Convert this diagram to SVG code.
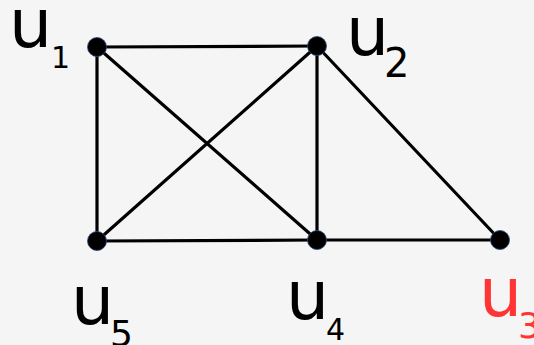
<svg xmlns="http://www.w3.org/2000/svg" width="534" height="345" viewBox="0 0 534 345">
<style>
.e{stroke:#000;stroke-width:3.2;stroke-linecap:round}
.n{fill:#000;stroke:#2a4a7a;stroke-width:0.8}
.t{font-family:"DejaVu Sans",sans-serif}
.u{font-size:68px}
.r{fill:#ff3535}
</style>
<rect width="534" height="345" fill="#f5f5f5"/>
<g id="connectors">
<line class="e" x1="97" y1="47" x2="317" y2="46"/>
<line class="e" x1="97" y1="47" x2="97" y2="241"/>
<line class="e" x1="97" y1="47" x2="317" y2="240"/>
<line class="e" x1="317" y1="46" x2="97" y2="241"/>
<line class="e" x1="317" y1="46" x2="317" y2="240"/>
<line class="e" x1="317" y1="46" x2="500" y2="240"/>
<line class="e" x1="97" y1="241" x2="317" y2="240"/>
<line class="e" x1="317" y1="240" x2="500" y2="240"/>
</g>
<g id="u1"><circle class="n" cx="97" cy="47" r="9.5"/><text class="t u" x="9" y="47">u</text><text class="t" font-size="30" x="51" y="68">1</text></g>
<g id="u2"><circle class="n" cx="317" cy="46" r="9.5"/><text class="t u" x="346" y="55">u</text><text class="t" font-size="40" x="384" y="77">2</text></g>
<g id="u3"><circle class="n" cx="500" cy="240" r="9.5"/><text class="t u r" x="479" y="316">u</text><text class="t r" font-size="36" x="518" y="338">3</text></g>
<g id="u4"><circle class="n" cx="317" cy="240" r="9.5"/><text class="t u" x="286" y="319">u</text><text class="t" font-size="30" x="326" y="340">4</text></g>
<g id="u5"><circle class="n" cx="97" cy="241" r="9.5"/><text class="t u" x="71" y="324">u</text><text class="t" font-size="36" x="110" y="346">5</text></g>
</svg>
